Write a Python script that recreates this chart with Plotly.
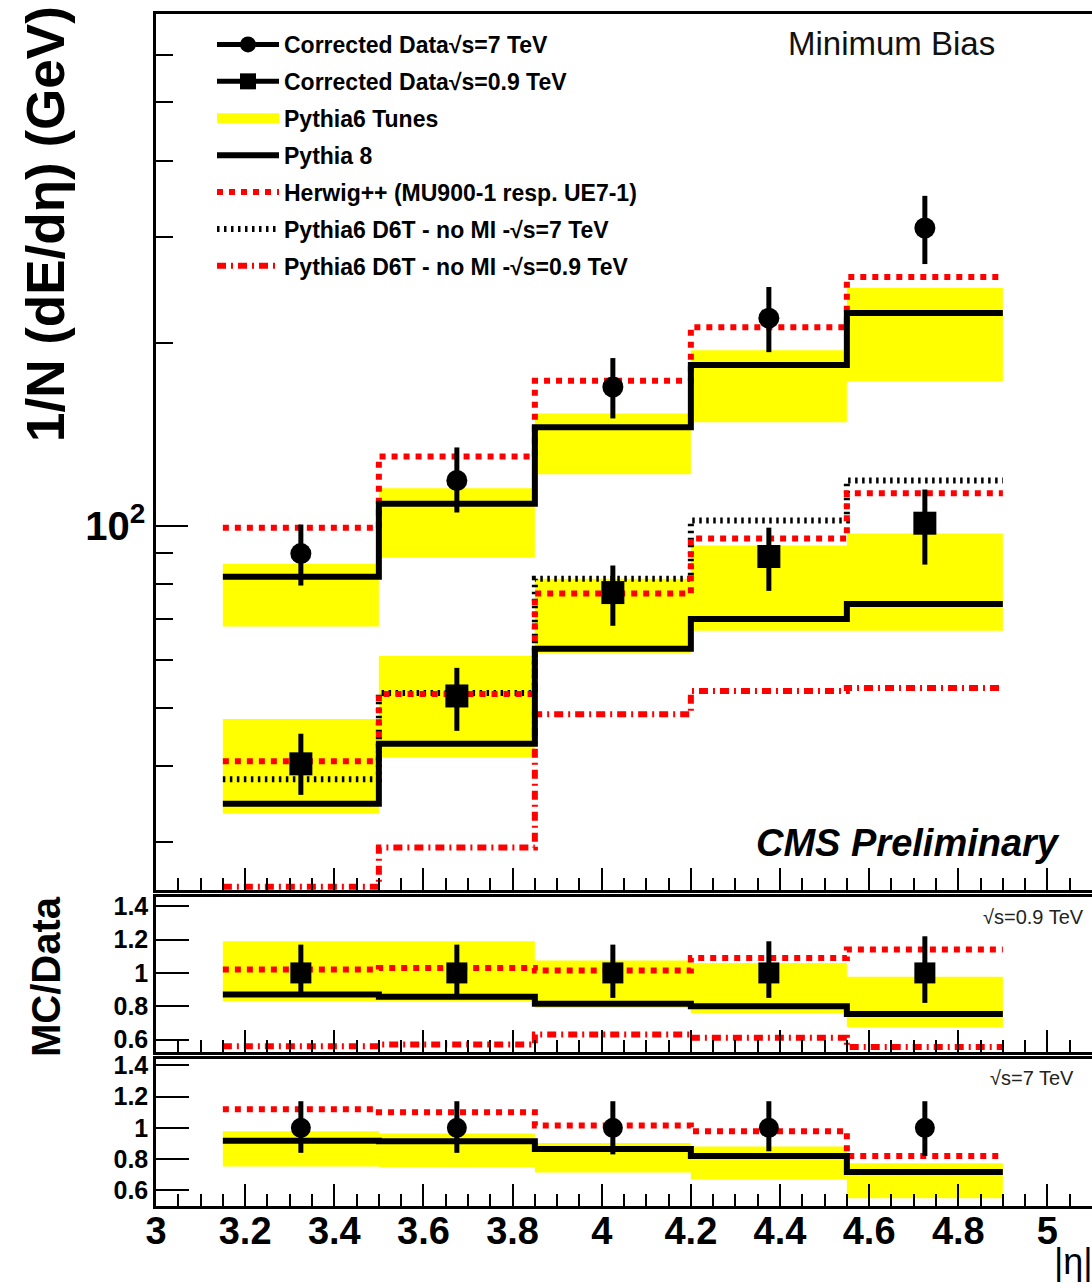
import math
import plotly.graph_objects as go

# ---------------- data ----------------
bin_edges = [3.15, 3.5, 3.85, 4.2, 4.55, 4.9]
bin_centers = [3.325, 3.675, 4.025, 4.375, 4.725]

# main panel (GeV)
data7 = [89.9, 118.7, 169.4, 220.1, 310.1]
data7_lo = [79.6, 105.1, 150.3, 193.4, 270.4]
data7_hi = [100.4, 134.6, 189.1, 247.8, 350.5]
data09 = [40.4, 52.3, 77.5, 88.9, 100.9]
data09_lo = [35.9, 45.8, 68.3, 78.0, 86.2]
data09_hi = [45.3, 58.2, 85.9, 99.2, 114.7]
tunes7_lo = [68.1, 88.5, 121.5, 148.1, 173.1]
tunes7_hi = [86.5, 115.2, 153.2, 194.9, 246.9]
tunes09_lo = [33.4, 41.4, 61.6, 67.0, 67.0]
tunes09_hi = [47.9, 60.9, 81.7, 92.7, 97.0]
pythia8_7 = [82.3, 108.7, 145.4, 184.1, 224.4]
pythia8_09 = [34.7, 43.6, 62.6, 70.1, 74.2]
herwig_7 = [99.2, 130.1, 173.4, 212.7, 257.3]
herwig_09 = [40.8, 52.7, 77.2, 95.2, 113.1]
d6t_nomi_7 = [38.1, 52.9, 81.7, 101.9, 118.7]
d6t_nomi_09 = [22.6, 29.4, 48.8, 53.3, 53.9]

# ratio panel sqrt(s)=0.9 TeV
r09_data = [1.0, 1.0, 1.0, 1.0, 1.0]
r09_data_lo = [0.88, 0.87, 0.85, 0.85, 0.82]
r09_data_hi = [1.17, 1.17, 1.17, 1.19, 1.22]
r09_tunes_lo = [0.83, 0.83, 0.79, 0.76, 0.675]
r09_tunes_hi = [1.19, 1.19, 1.075, 1.06, 0.977]
r09_pythia8 = [0.87, 0.857, 0.815, 0.80, 0.753]
r09_herwig = [1.02, 1.03, 1.015, 1.09, 1.14]
r09_d6t = [0.56, 0.57, 0.63, 0.61, 0.555]

# ratio panel sqrt(s)=7 TeV
r7_data = [1.0, 1.0, 1.0, 1.0, 1.0]
r7_data_lo = [0.84, 0.84, 0.83, 0.85, 0.82]
r7_data_hi = [1.17, 1.17, 1.17, 1.17, 1.17]
r7_tunes_lo = [0.752, 0.75, 0.714, 0.67, 0.55]
r7_tunes_hi = [0.978, 0.963, 0.903, 0.88, 0.774]
r7_pythia8 = [0.918, 0.914, 0.865, 0.82, 0.718]
r7_herwig = [1.118, 1.10, 1.015, 0.978, 0.82]

x_tickvals = [3.0, 3.2, 3.4, 3.6, 3.8, 4.0, 4.2, 4.4, 4.6, 4.8, 5.0]
x_ticktext = ["3", "3.2", "3.4", "3.6", "3.8", "4", "4.2", "4.4", "4.6", "4.8", "5"]
main_major = [100]
main_major_text = ["10<sup>2</sup>"]
main_minor = [30, 40, 50, 60, 70, 80, 90, 200, 300, 400, 500, 600]
ratio_tickvals = [0.6, 0.8, 1.0, 1.2, 1.4]
ratio_ticktext = ["0.6", "0.8", "1", "1.2", "1.4"]

legend_labels = [
    "Corrected Data√s=7 TeV",
    "Corrected Data√s=0.9 TeV",
    "Pythia6 Tunes",
    "Pythia 8",
    "Herwig++ (MU900-1 resp. UE7-1)",
    "Pythia6 D6T - no MI -√s=7 TeV",
    "Pythia6 D6T - no MI -√s=0.9 TeV",
]

MAIN_MIN, MAIN_MAX = 25.0, 700.0

# ---------------- styles ----------------
FONT = "Liberation Sans, Arial, Helvetica, sans-serif"
YELLOW = "#ffff00"
RED = "#ff0000"
herwig_line = dict(color=RED, width=6, dash="6px,6px")
p8_line = dict(color="black", width=6)
d6t7_line = dict(color="black", width=6, dash="2.5px,4.5px")
d6t09_line = dict(color=RED, width=6, dash="9px,5px,2px,5px")


def band_xy(lo, hi):
    xs, ys = [], []
    for i in range(len(lo)):
        a, b = bin_edges[i], bin_edges[i + 1]
        xs += [a, b, b, a, a, None]
        ys += [lo[i], lo[i], hi[i], hi[i], lo[i], None]
    return xs, ys


def step_y(vals, floor=None):
    v = list(vals)
    if floor is not None:
        v = [max(x, floor) for x in v]
    return v + [v[-1]]


fig = go.Figure()


def add_band(lo, hi, xa, ya):
    xs, ys = band_xy(lo, hi)
    fig.add_trace(go.Scatter(x=xs, y=ys, mode="lines", fill="toself",
                             fillcolor=YELLOW, line=dict(width=0, color=YELLOW),
                             showlegend=False, hoverinfo="skip", xaxis=xa, yaxis=ya))


def add_step(vals, line, xa, ya, floor=None):
    fig.add_trace(go.Scatter(x=bin_edges, y=step_y(vals, floor), mode="lines",
                             line_shape="hv", line=line, showlegend=False,
                             xaxis=xa, yaxis=ya))


def add_data(vals, lo, hi, symbol, size, xa, ya):
    fig.add_trace(go.Scatter(
        x=bin_centers, y=vals, mode="markers",
        marker=dict(symbol=symbol, size=size, color="black"),
        error_y=dict(type="data", symmetric=False,
                     array=[h - v for h, v in zip(hi, vals)],
                     arrayminus=[v - l for l, v in zip(lo, vals)],
                     thickness=5, width=0, color="black"),
        showlegend=False, xaxis=xa, yaxis=ya))


floor = MAIN_MIN * 1.012

# main panel
add_band(tunes7_lo, tunes7_hi, "x", "y")
add_band(tunes09_lo, tunes09_hi, "x", "y")
add_step(d6t_nomi_09, d6t09_line, "x", "y", floor)
add_step(d6t_nomi_7, d6t7_line, "x", "y", floor)
add_step(herwig_7, herwig_line, "x", "y", floor)
add_step(herwig_09, herwig_line, "x", "y", floor)
add_step(pythia8_7, p8_line, "x", "y", floor)
add_step(pythia8_09, p8_line, "x", "y", floor)
add_data(data7, data7_lo, data7_hi, "circle", 21, "x", "y")
add_data(data09, data09_lo, data09_hi, "square", 23, "x", "y")

# ratio 0.9 TeV
add_band(r09_tunes_lo, r09_tunes_hi, "x2", "y2")
add_step(r09_d6t, d6t09_line, "x2", "y2")
add_step(r09_herwig, herwig_line, "x2", "y2")
add_step(r09_pythia8, p8_line, "x2", "y2")
add_data(r09_data, r09_data_lo, r09_data_hi, "square", 21, "x2", "y2")

# ratio 7 TeV
add_band(r7_tunes_lo, r7_tunes_hi, "x3", "y3")
add_step(r7_herwig, herwig_line, "x3", "y3")
add_step(r7_pythia8, p8_line, "x3", "y3")
add_data(r7_data, r7_data_lo, r7_data_hi, "circle", 20, "x3", "y3")

# legend entries
leg_styles = [
    dict(mode="lines+markers", line=dict(color="black", width=5), marker=dict(symbol="circle", size=16, color="black")),
    dict(mode="lines+markers", line=dict(color="black", width=5), marker=dict(symbol="square", size=16, color="black")),
    dict(mode="lines", line=dict(color=YELLOW, width=10)),
    dict(mode="lines", line=p8_line),
    dict(mode="lines", line=herwig_line),
    dict(mode="lines", line=d6t7_line),
    dict(mode="lines", line=d6t09_line),
]
for i, (lab, st) in enumerate(zip(legend_labels, leg_styles)):
    fig.add_trace(go.Scatter(x=[None], y=[None], name=lab, legendgroup=f"g{i}",
                             showlegend=True, xaxis="x", yaxis="y", **st))

# ---------------- layout ----------------
W, H = 1092, 1287
L, R, T, B = 156, 0, 14, 81
PH = H - T - B


def py(pix):
    return (H - B - pix) / PH


def px(pix):
    return (pix - L) / (W - L - R)


axis_line = dict(showline=True, linecolor="black", linewidth=2.5, showgrid=False,
                 zeroline=False, ticks="inside", tickcolor="black", tickwidth=2)

xcommon = dict(range=[3.0, 5.1], tickmode="array", tickvals=x_tickvals, ticktext=x_ticktext,
               ticklen=22, mirror=True,
               minor=dict(dtick=0.05, tick0=3.0, ticks="inside", ticklen=12,
                          tickcolor="black", tickwidth=2, showgrid=False), **axis_line)

fig.update_layout(
    width=W, height=H,
    margin=dict(l=L, r=R, t=T, b=B),
    paper_bgcolor="white", plot_bgcolor="white",
    font=dict(family=FONT, color="black"),
    showlegend=True,
    legend=dict(x=px(212), y=py(23), xanchor="left", yanchor="top",
                bgcolor="rgba(0,0,0,0)", borderwidth=0, itemwidth=62,
                tracegroupgap=4, traceorder="grouped",
                font=dict(family=FONT, size=23, color="black", weight="bold")),
    xaxis=dict(domain=[0, 1], anchor="y", showticklabels=False, **xcommon),
    xaxis2=dict(domain=[0, 1], anchor="y2", showticklabels=False, matches="x", **xcommon),
    xaxis3=dict(domain=[0, 1], anchor="y3", showticklabels=True, matches="x",
                ticklabelstandoff=-10,
                tickfont=dict(family=FONT, size=38, weight="bold"), **xcommon),
    yaxis=dict(domain=[py(890), 1], type="log",
               range=[math.log10(MAIN_MIN), math.log10(MAIN_MAX)],
               tickmode="array", tickvals=main_major, ticktext=main_major_text, ticklen=32,
               tickfont=dict(family=FONT, size=40, weight="bold"),
               minor=dict(tickmode="array", tickvals=main_minor, ticks="inside", ticklen=17,
                          tickcolor="black", tickwidth=2, showgrid=False),
               **axis_line),
    yaxis2=dict(domain=[py(1052), py(897)], range=[0.525, 1.456],
                tickmode="array", tickvals=ratio_tickvals, ticktext=ratio_ticktext, ticklen=33,
                tickfont=dict(family=FONT, size=25, weight="bold"), **axis_line),
    yaxis3=dict(domain=[0, py(1059)], range=[0.50, 1.44],
                tickmode="array", tickvals=ratio_tickvals, ticktext=ratio_ticktext, ticklen=33,
                tickfont=dict(family=FONT, size=25, weight="bold"), **axis_line),
)

ann = [
    dict(text="1/N (dE/dη) (GeV)", x=px(45), y=py(224), textangle=-90,
         font=dict(size=53, weight="bold")),
    dict(text="MC/Data", x=px(46), y=py(977), textangle=-90,
         font=dict(size=40, weight="bold")),
    dict(text="Minimum Bias", x=px(891), y=py(43), font=dict(size=33, color="#111")),
    dict(text="<i>CMS Preliminary</i>", x=px(908), y=py(843),
         font=dict(size=38, weight="bold")),
    dict(text="√s=0.9 TeV", x=px(1086), y=py(917), xanchor="right",
         font=dict(size=20, color="#222")),
    dict(text="√s=7 TeV", x=px(1076), y=py(1078), xanchor="right",
         font=dict(size=20, color="#222")),
    dict(text="|η|", x=px(1073), y=py(1261), font=dict(size=36)),
]
for a in ann:
    a.setdefault("xanchor", "center")
    a.update(xref="paper", yref="paper", yanchor="middle", showarrow=False)
    a["font"] = dict(family=FONT, color=a["font"].get("color", "black"),
                     **{k: v for k, v in a["font"].items() if k != "color"})
    fig.add_annotation(**a)

fig.write_html("out.html", config={"displayModeBar": False},
               post_script="document.body.style.margin='0px';document.body.style.overflow='hidden';")
